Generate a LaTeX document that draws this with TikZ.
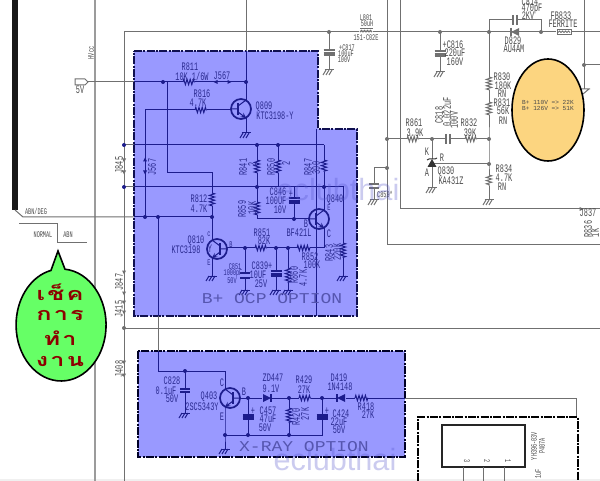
\documentclass[tikz,border=0pt]{standalone}
\usepackage{fontspec}
\usetikzlibrary{decorations.pathmorphing}
\newfontfamily\schfont[FakeStretch=0.6]{Liberation Mono}
\newfontfamily\bigfont[FakeStretch=1.2]{Liberation Mono}
\newfontfamily\plainfont{Liberation Mono}
\newfontfamily\markfont{Liberation Sans}
\newfontfamily\thaifont[Script=Thai,LetterSpace=12,FakeStretch=1.4]{Loma}
\definecolor{panelfill}{HTML}{9999FF}
\definecolor{wirenavy}{HTML}{1C1C8C}
\definecolor{wiregray}{HTML}{707070}
\definecolor{textin}{HTML}{2A2A90}
\definecolor{textout}{HTML}{4A4A4A}
\tikzset{every picture/.style={line width=0.75pt},
	wirein/.style={color=wirenavy},
	wireout/.style={color=wiregray},
	res/.style={decorate,decoration={zigzag,segment length=2.4,amplitude=2}},
	lblin/.style={font=\fontsize{8.6}{9}\schfont,text=textin,inner sep=0pt},
	lblout/.style={font=\fontsize{8.6}{9}\schfont,text=textout,inner sep=0pt},
	smalltxt/.style={font=\fontsize{6.5}{7}\schfont},
	tinytxt/.style={font=\fontsize{4.6}{5}\plainfont,text=textout,inner sep=0pt},
	bigtxt/.style={font=\fontsize{11.25}{12}\bigfont,text={rgb,255:red,85;green,85;blue,175},inner sep=0pt},
	panel/.style={fill=panelfill,draw={rgb,255:red,16;green,16;blue,80},line width=1.2pt,dash pattern=on 6pt off 1pt on 1.5pt off 1pt},
	thicktxt/.style={font=\fontsize{13.5}{14}\thaifont\bfseries,text={rgb,255:red,140;green,0;blue,0},inner sep=0pt},
	watermark/.style={font=\fontsize{23}{24}\markfont,text={rgb,255:red,85;green,85;blue,205},text opacity=0.3,inner sep=0pt}}
% parts of the schematic, first argument is the wire colour
\newcommand{\resistor}[4][wirein]{\coordinate (#2a) at (#3); \coordinate (#2b) at (#4); \draw[#1,res] (#2a) -- (#2b);}
\newcommand{\gnd}[3][wirein]{\coordinate (#2) at (#3);
	\draw[#1] (#2) ++(-4.5,0) -- ++(9,0);
	\foreach \k in {-3,0,3} {\draw[#1] (#2) ++(\k,0) -- ++(-3,5);}}
\newcommand{\capv}[5][wirein]{\coordinate (#2a) at (#3,#4); \coordinate (#2b) at (#3,#5);
	\draw[#1,line width=1pt] (#3-5,#4) -- (#3+5,#4) (#3-5,#5) -- (#3+5,#5);}
\newcommand{\capp}[5][wirein]{\coordinate (#2a) at (#3,#4); \coordinate (#2b) at (#3,#5+2);
	\draw[#1,line width=1pt] (#3-5.5,#4) -- (#3+5.5,#4) (#3-5.5,#5) -- (#3+5.5,#5) (#3-5.5,#5+2) -- (#3+5.5,#5+2);}
\newcommand{\caph}[5][wirein]{\coordinate (#2a) at (#4,#3); \coordinate (#2b) at (#5,#3);
	\draw[#1,line width=1pt] (#4,#3-5) -- (#4,#3+5) (#5,#3-5) -- (#5,#3+5);}
\newcommand{\diode}[5][wirein]{\coordinate (#2a) at (#3-5,#4); \coordinate (#2b) at (#3+5,#4);
	\begin{scope}[shift={(#3,#4)},xscale=#5]
		\fill[#1] (-4,-4) -- (4,0) -- (-4,4) -- cycle;
		\draw[#1,line width=1pt] (4,-4) -- (4,4);
	\end{scope}}
\newcommand{\transistor}[3][wirein]{
	\begin{scope}[shift={#2},xscale=#3]
		\draw[#1,line width=1.3pt] (0,0) circle [radius=10];
		\draw[#1,line width=1.2pt] (-3,-6) -- (-3,6);
		\draw[#1] (-10,0) -- (-3,0) (-3,-3) -- (5,-9);
		\draw[#1,-stealth] (-3,3) -- (5,9);
	\end{scope}}
\newcommand{\jmark}[3][wirein]{\fill[#1,shift={(#2)},rotate=#3] (2.5,0) -- (-1.5,2) -- (-1.5,-2) -- cycle;}
\newcommand{\jdot}[2][wirein]{\fill[#1] (#2) circle [radius=2];}

\begin{document}
\begin{tikzpicture}[x=0.75pt,y=0.75pt,yscale=-1]
	\useasboundingbox (0,0) rectangle (600,481);
	\fill[white] (0,0) rectangle (600,481);
	\fill[black!6] (0,479) rectangle (600,481);

	%Shape: Panels
	\path[panel] (134,51) -- (318,51) -- (318,129) -- (357,129) -- (357,316) -- (134,316) -- cycle;
	\path[panel,line width=2pt,draw=black!85!blue] (138,351) rectangle (405,457);

	%Straight Lines: left side
	\fill[black!90] (12,0) rectangle (18,210);
	\draw[wiregray!70,line width=1.5pt] (95,0) -- (95,481);
	\coordinate (abnbend) at (23,217);
	\coordinate (abnin) at (134,217);
	\draw[wireout] (15,210) -- (abnbend) -- (abnin);
	\draw[wireout] (19,224) -- (57,224) -- (57,243) -- (87,243);
	\coordinate (busl) at (124,32);
	\coordinate (busb) at (124,481);
	\coordinate (busr) at (600,32);
	\draw[wireout] (busb) -- (busl) -- (busr);

	\node[lblout,smalltxt] (tabn) at (36,211) {ABN/DEG};
	\node[lblout,smalltxt] (tnormal) at (43,235) {NORMAL};
	\node[lblout,smalltxt] (tabnb) at (68,235) {ABN};
	\node[lblout,smalltxt,rotate=90] (thv) at (91,53) {HVcc};
	\node[lblout] (t5v) at (80,90) {5V};
	\foreach \y/\n in {165/J845,282/J847,309/J415,369/J408} {
		\node[lblout,rotate=90] (t\n) at (119,\y) {\n};}
	\foreach \y in {160,172,272,293,302,312,362,375} {\jmark[wireout]{124,\y}{90}}

	%Shape: 5V connector
	\coordinate (fivev) at (88,82);
	\draw[wireout] (75,79) -- (85,79) -- (fivev) -- (85,85) -- (75,85) -- cycle;
	\coordinate (fivein) at (134,82);
	\draw[wireout] (fivev) -- (fivein);

	% upper panel
	\coordinate (j811) at (163,82);
	\coordinate (j809) at (246,82);
	\coordinate (top809) at (246,0);
	\coordinate (in809) at (246,51);
	\draw[wireout] (top809) -- (in809);
	\draw[wirein] (in809) -- (j809);
	\resistor{r811}{183,82}{195,82}
	\draw[wirein] (fivein) -- (r811a) (r811b) -- (j809);
	\jmark{216,82}{180}
	\jmark{229,82}{0}
	\jdot{j811}
	\jdot{j809}
	\transistor{(241,109)}{1}
	\gnd{g809}{246,133}
	\coordinate (c809) at (246,100);
	\coordinate (e809) at (246,118);
	\draw[wirein] (j809) -- (c809) (e809) -- (g809);
	\resistor{r816}{195,110}{207,110}
	\coordinate (b809) at (231,110);
	\coordinate (c816l) at (145,110);
	\coordinate (j816) at (145,217);
	\draw[wirein] (j816) -- (c816l) -- (r816a) (r816b) -- (b809);
	\jmark{145,160}{270}
	\jmark{145,172}{90}

	% supply rails of the panel
	\coordinate (rail1) at (124,145);
	\coordinate (rail1in) at (134,145);
	\coordinate (rail2) at (124,187);
	\coordinate (rail2in) at (134,187);
	\coordinate (j841) at (257,145);
	\coordinate (j850) at (278,145);
	\coordinate (r847t) at (324,145);
	\coordinate (j859) at (257,187);
	\coordinate (j840e) at (324,187);
	\coordinate (j846b) at (294,219);
	\coordinate (c859b) at (257,219);
	\coordinate (b840) at (309,219);
	\draw[wireout] (rail1) -- (rail1in) (rail2) -- (rail2in);
	\draw[wirein] (rail1in) -- (r847t) (rail2in) -- (j840e);
	\jdot{rail1} \jdot{rail2} \jdot{j841} \jdot{j850} \jdot{j859} \jdot{j840e} \jdot{j846b}
	\resistor{r841}{257,160}{257,173}
	\resistor{r850}{278,160}{278,173}
	\resistor{r847}{324,160}{324,172}
	\resistor{r859}{257,202}{257,215}
	\draw[wirein] (j841) -- (r841a) (r841b) -- (j859) (j850) -- (r850a) (r850b) -- (278,187);
	\draw[wirein] (r847t) -- (r847a) (r847b) -- (j840e) (j859) -- (r859a) (r859b) -- (c859b) -- (b840);
	\capp{c846}{294}{198}{201}
	\draw[wirein] (294,187) -- (c846a) (c846b) -- (j846b);
	\transistor{(319,219)}{1}
	\coordinate (e840) at (324,210);
	\coordinate (c840) at (324,228);
	\coordinate (r843bend) at (343,187);
	\resistor{r843}{343,243}{343,258}
	\gnd{g843}{343,276}
	\draw[wirein] (j840e) -- (e840) (j840e) -- (r843bend) -- (r843a) (r843b) -- (g843);

	% Q810
	\coordinate (c811a) at (167,82);
	\coordinate (c811b) at (167,173);
	\coordinate (c811c) at (212,173);
	\resistor{r812}{212,193}{212,206}
	\coordinate (j812) at (212,217);
	\coordinate (j158) at (158,217);
	\draw[wirein] (c811a) -- (c811b) -- (c811c) -- (r812a) (r812b) -- (j812);
	\draw[wirein] (abnin) -- (j812);
	\jdot{j816} \jdot{j158} \jdot{j812}
	\transistor{(217,249)}{-1}
	\coordinate (c810) at (212,240);
	\coordinate (e810) at (212,258);
	\gnd{g810}{212,276}
	\draw[wirein] (j812) -- (c810) (e810) -- (g810);
	\coordinate (b810) at (227,248);
	\coordinate (j851) at (245,248);
	\coordinate (j839) at (276,248);
	\coordinate (j860) at (288,248);
	\coordinate (c852) at (324,248);
	\resistor{r851}{255,248}{267,248}
	\resistor{r852}{297,248}{310,248}
	\draw[wirein] (b810) -- (r851a) (r851b) -- (r852a) (r852b) -- (c852) -- (c840);
	\jdot{j851} \jdot{j839} \jdot{j860}
	\capv{c851}{245}{273}{278}
	\gnd{g851}{245,290}
	\draw[wirein] (j851) -- (c851a) (c851b) -- (g851);
	\capp{c839}{276}{271}{274}
	\gnd{g839}{276,290}
	\draw[wirein] (j839) -- (c839a) (c839b) -- (g839);
	\resistor{r860}{288,268}{288,283}
	\gnd{g860}{288,290}
	\draw[wirein] (j860) -- (r860a) (r860b) -- (g860);
	\coordinate (v316t) at (316,129);
	\coordinate (v316b) at (316,316);
	\draw[wirein] (v316t) -- (v316b);

	% Text Node
	\node[lblin] (tr811) at (190,67) {R811};
	\node[lblin] (t10k) at (192,76) {10K 1/6W};
	\node[lblin] (tj567) at (222,76) {J567};
	\node[lblin] (tr816) at (202,94) {R816};
	\node[lblin] (t47k) at (198,103) {4.7K};
	\node[lblin] (tq809) at (264,107) {Q809};
	\node[lblin] (tktc) at (275,116) {KTC3198-Y};
	\node[lblin,rotate=90] (tj567b) at (152,167) {J567};
	\node[lblin,rotate=90] (tr841) at (243,167) {R841};
	\node[lblin,rotate=90] (t841v) at (252,164) {2};
	\node[lblin,rotate=90] (tr850) at (271,167) {R850};
	\node[lblin,rotate=90] (t850v) at (286,163) {2};
	\node[lblin,rotate=90] (tr847) at (308,167) {R847};
	\node[lblin,rotate=90] (t847v) at (316,168) {390};
	\node[lblin] (tc846) at (278,192) {C846};
	\node[lblin] (t846u) at (276,201) {100UF};
	\node[lblin] (t846v) at (280,210) {10V};
	\node[lblin] (tplus846) at (291,194) {+};
	\node[lblin,rotate=90] (tr859) at (242,209) {R859};
	\node[lblin,rotate=90] (t859v) at (252,208) {10K};
	\node[lblin] (tr812) at (199,199) {R812};
	\node[lblin] (t812v) at (199,209) {4.7K};
	\node[lblin] (tq840) at (335,200) {Q840};
	\node[lblin,smalltxt] (te840) at (329,208) {E};
	\node[lblin] (tb840) at (306,224) {B};
	\node[lblin] (tc840) at (329,234) {C};
	\node[lblin] (tbf) at (299,233) {BF421L};
	\node[lblin] (tq810) at (196,241) {Q810};
	\node[lblin] (tktc810) at (186,250) {KTC3198};
	\node[lblin] (ty810) at (210,249) {Y};
	\node[lblin,smalltxt] (tc810) at (209,234) {c};
	\node[lblin,smalltxt] (tb810) at (231,245) {B};
	\node[lblin,smalltxt] (te810) at (209,263) {E};
	\node[lblin] (tr851) at (262,233) {R851};
	\node[lblin] (t851v) at (264,241) {82K};
	\node[lblin] (tr852) at (310,257) {R852};
	\node[lblin] (t852v) at (312,265) {100K};
	\node[lblin,rotate=90] (tr843) at (329,253) {R843};
	\node[lblin,rotate=90] (t843v) at (337,252) {220K};
	\node[lblin,smalltxt] (tc851) at (235,267) {C851};
	\node[lblin,smalltxt] (t851u) at (233,274) {1000pF};
	\node[lblin,smalltxt] (t851w) at (232,281) {50V};
	\node[lblin] (tc839) at (262,266) {C839+};
	\node[lblin] (t839u) at (258,275) {10UF};
	\node[lblin] (t839v) at (261,284) {25V};
	\node[lblin,rotate=90] (tr860) at (294,275) {R860};
	\node[lblin,rotate=90] (t860v) at (303,278) {4.7K};
	\node[bigtxt] (tocp) at (272,299) {B+ OCP OPTION};

	% X-RAY panel
	\coordinate (v158a) at (158,316);
	\coordinate (v158b) at (158,351);
	\coordinate (v158c) at (158,371);
	\coordinate (c403) at (225,371);
	\coordinate (j828) at (185,371);
	\draw[wirein] (j158) -- (v158a) (v158b) -- (v158c) -- (c403);
	\draw[wireout] (v158a) -- (v158b);
	\capv{c828}{185}{389}{392}
	\gnd{g828}{185,413}
	\draw[wirein] (j828) -- (c828a) (c828b) -- (g828);
	\jdot{j828}
	\transistor{(230,398)}{-1}
	\coordinate (c403b) at (225,389);
	\coordinate (e403) at (225,407);
	\coordinate (j403e) at (225,435);
	\gnd{g403}{225,449}
	\draw[wirein] (c403) -- (c403b) (e403) -- (j403e) -- (g403);
	\coordinate (b403) at (240,398);
	\coordinate (j457) at (248,398);
	\coordinate (j420) at (289,398);
	\coordinate (j424) at (322,398);
	\coordinate (j457b) at (248,435);
	\coordinate (j420b) at (289,435);
	\coordinate (j424b) at (322,435);
	\diode{zd447}{267}{398}{1}
	\resistor{r429}{299,398}{311,398}
	\diode{d419}{341}{398}{-1}
	\resistor{r418}{355,398}{368,398}
	\coordinate (xout) at (405,398);
	\coordinate (xbend) at (576,398);
	\coordinate (xdown) at (576,417);
	\draw[wirein] (b403) -- (zd447a) (zd447b) -- (r429a) (r429b) -- (d419a) (d419b) -- (r418a) (r418b) -- (xout);
	\draw[wireout] (xout) -- (xbend) -- (xdown);
	\draw[wirein] (j403e) -- (j424b) -- (j424);
	\capp{c457}{248}{415}{417}
	\draw[wirein] (j457) -- (c457a) (c457b) -- (j457b);
	\resistor{r420}{289,408}{289,423}
	\draw[wirein] (j420) -- (r420a) (r420b) -- (j420b);
	\capp{c424}{322}{415}{417}
	\draw[wirein] (j424) -- (c424a) (c424b) -- (j424b);
	\foreach \j in {j403e,j457,j420,j424,j457b,j420b} {\jdot{\j}}

	% Text Node
	\node[lblin] (tc828) at (172,381) {C828};
	\node[lblin] (t828u) at (166,391) {0.1uF};
	\node[lblin] (t828v) at (172,399) {50V};
	\node[lblin] (tq403) at (209,397) {Q403};
	\node[lblin] (t2sc) at (202,407) {2SC5343Y};
	\node[lblin] (tc403) at (222,383) {C};
	\node[lblin] (tb403) at (244,392) {B};
	\node[lblin] (te403) at (222,417) {E};
	\node[lblin] (tzd) at (273,378) {ZD447};
	\node[lblin] (tzdv) at (271,389) {9.1V};
	\node[lblin] (tc457) at (268,411) {C457};
	\node[lblin] (t457u) at (268,419) {47uF};
	\node[lblin] (t457v) at (265,428) {50V};
	\node[lblin] (tr429) at (304,380) {R429};
	\node[lblin] (t429v) at (304,390) {27K};
	\node[lblin,rotate=90] (tr420) at (296,417) {R420};
	\node[lblin,rotate=90] (t420v) at (305,414) {27K};
	\node[lblin] (td419) at (339,378) {D419};
	\node[lblin] (td419n) at (340,387) {1N4148};
	\node[lblin] (tr418) at (366,407) {R418};
	\node[lblin] (t418v) at (368,415) {27K};
	\node[lblin] (tc424) at (341,414) {C424};
	\node[lblin] (t424u) at (339,422) {22uF};
	\node[lblin] (t424v) at (339,430) {50V};
	\node[lblin] (tplus424) at (327,411) {+};
	\node[lblin] (tplus457) at (253,411) {+};
	\node[bigtxt] (txray) at (304,447) {X-RAY OPTION};

	% right side
	\foreach \n/\x/\a/\b in {v387/387/0/245,v400/400/0/209} {
		\coordinate (\n t) at (\x,\a);
		\coordinate (\n b) at (\x,\b);
		\draw[wireout] (\n t) -- (\n b) -- (600,\b);}
	\coordinate (l801a) at (360,32);
	\coordinate (j817) at (329,32);
	\coordinate (j816c) at (440,32);
	\coordinate (j830) at (489,32);
	\coordinate (j833) at (541,32);
	\fill[white] (359,27) rectangle (373,33);
	\foreach \k in {0,1,2,3} {\draw[wireout,line width=1pt] (360+3*\k,32) arc [start angle=180,end angle=360,radius=1.5];}
	\draw[wireout] (360,28.5) -- (373,28.5);
	\capp[wireout]{c817}{329}{50}{53}
	\gnd[wireout]{g817}{329,70}
	\draw[wireout] (j817) -- (c817a) (c817b) -- (g817);
	\capp[wireout]{c816}{440}{51}{54}
	\gnd[wireout]{g816}{440,72}
	\draw[wireout] (j816c) -- (c816a) (c816b) -- (g816);
	\resistor[wireout]{r830}{489,77}{489,90}
	\resistor[wireout]{r831}{489,102}{489,115}
	\resistor[wireout]{r834}{489,175}{489,186}
	\coordinate (j832) at (489,139);
	\coordinate (j834) at (489,164);
	\gnd[wireout]{g834}{489,200}
	\draw[wireout] (j830) -- (r830a) (r830b) -- (r831a) (r831b) -- (j832) -- (j834) -- (r834a) (r834b) -- (g834);
	\coordinate (j861) at (387,139);
	\coordinate (j830k) at (432,139);
	\resistor[wireout]{r861}{407,139}{419,139}
	\caph[wireout]{c818}{139}{446}{450}
	\resistor[wireout]{r832}{465,139}{477,139}
	\draw[wireout] (j861) -- (r861a) (r861b) -- (c818a) (c818b) -- (r832a) (r832b) -- (j832);
	\coordinate (q830t) at (432,159);
	\coordinate (q830b) at (432,167);
	\coordinate (q830r) at (432,164);
	\gnd[wireout]{g830}{432,188}
	\draw[wireout] (j830k) -- (q830t) (q830b) -- (g830) (q830r) -- (j834);
	\fill[black!80] (q830t) -- (436.5,167) -- (427.5,167) -- cycle;
	\draw[black!80] (427,160) -- (429,159) -- (435,159) -- (437,158);
	\coordinate (j859a) at (387,168);
	\coordinate (c859k) at (374,168);
	\capv[wireout]{c859}{374}{184}{188}
	\gnd[wireout]{g859}{374,200}
	\draw[wireout] (j859a) -- (c859k) -- (c859a) (c859b) -- (g859);
	\coordinate (c814l) at (489,20);
	\coordinate (c814r) at (541,20);
	\caph[wireout]{c814}{20}{513}{517}
	\draw[wireout] (j830) -- (c814l) -- (c814a) (c814b) -- (c814r) -- (j833);
	\diode[wireout]{d829}{515}{32}{-1}
	\fill[white] (556,30) rectangle (572,35);
	\draw[wireout] (557,30) rectangle (571,35);
	\foreach \k in {0,1,2,3} {\draw[wireout] (558+3*\k,32.5) arc [start angle=180,end angle=360,radius=1.5];}
	\coordinate (v584t) at (584,0);
	\coordinate (j584) at (584,65);
	\coordinate (v584b) at (584,89);
	\draw[wireout] (v584t) -- (v584b) (j584) -- (600,65);
	\draw[wireout] (578,89) -- (590,89) (583,94) -- (589,89);
	\foreach \j in {j817,j816c,j830,j833,j861,j830k,j832,j834,j859a,j584} {\jdot[wireout]{\j}}
	\draw[wireout] (124,328) -- (600,328);
	\jdot[wireout]{124,328}
	\jmark[wireout]{581,209}{0}

	% Text Node
	\node[lblout,smalltxt] (tl801) at (366,18) {L801};
	\node[lblout,smalltxt] (t50uh) at (367,24) {50uH};
	\node[lblout,smalltxt] (t151) at (366,38) {151-C02E};
	\node[lblout,smalltxt] (tc817) at (347,48) {+C817};
	\node[lblout,smalltxt] (t817u) at (346,54) {100uF};
	\node[lblout,smalltxt] (t817v) at (344,60) {100V};
	\node[lblout] (tc816) at (453,45) {+C816};
	\node[lblout] (t816u) at (455,53) {220uF};
	\node[lblout] (t816v) at (455,62) {160V};
	\node[lblout] (tc814) at (530,2) {C814};
	\node[lblout] (t814u) at (532,9) {470pF};
	\node[lblout] (t814v) at (528,16) {2KV};
	\node[lblout] (td829) at (513,41) {D829};
	\node[lblout] (tau) at (514,49) {AU4AM};
	\node[lblout] (tfb) at (561,16) {FB833};
	\node[lblout] (tfer) at (563,24) {FERRITE};
	\node[lblout] (tr830) at (502,77) {R830};
	\node[lblout] (t830v) at (503,86) {180K};
	\node[lblout] (t830n) at (502,94) {RN};
	\node[lblout] (tr831) at (502,103) {R831};
	\node[lblout] (t831v) at (503,111) {56K};
	\node[lblout] (t831n) at (503,121) {RN};
	\node[lblout] (tr861) at (414,123) {R861};
	\node[lblout] (t861v) at (415,133) {3.9K};
	\node[lblout,rotate=90] (tc818) at (439,115) {C818};
	\node[lblout,rotate=90] (t818u) at (447,112) {0.022uF};
	\node[lblout,rotate=90] (t818v) at (454,120) {100V};
	\node[lblout] (tr832) at (469,123) {R832};
	\node[lblout] (t832v) at (470,133) {39K};
	\node[lblout] (tk) at (427,152) {K};
	\node[lblout] (tr) at (442,158) {R};
	\node[lblout] (ta) at (427,173) {A};
	\node[lblout] (tq830) at (446,172) {Q830};
	\node[lblout] (tka) at (451,181) {KA431Z};
	\node[lblout] (tr834) at (504,169) {R834};
	\node[lblout] (t834v) at (504,178) {4.7K};
	\node[lblout] (t834n) at (502,187) {RN};
	\node[lblout,smalltxt] (tc859) at (385,194) {C859*};
	\node[lblout] (tj837) at (588,213) {J837};
	\node[lblout,rotate=90] (tr836) at (588,229) {R836};
	\node[lblout,rotate=90] (t836v) at (595,233) {1K};

	%Shape: Ellipse
	\draw[black,line width=1.2pt,fill={rgb,255:red,252;green,213;blue,128}] (548,110) circle [x radius=36,y radius=51];
	\node[tinytxt] (tb110) at (548,102.5) {B+ 110V => 22K};
	\node[tinytxt] (tb126) at (548,108) {B+ 126V => 51K};

	%Shape: Balloon
	\draw[black,line width=1.2pt,fill={rgb,255:red,102;green,255;blue,102}] (58,251) -- (65,269.2) arc [start angle=275,end angle=617,x radius=45,y radius=56] -- cycle;
	\node[thicktxt] (tcheck) at (60,292) {เช็ค};
	\node[thicktxt] (tkan) at (60,315) {การ};
	\node[thicktxt] (ttham) at (60,338) {ทำ};
	\node[thicktxt] (tngan) at (60,361) {งาน};

	% connector box at the bottom
	\draw[black,line width=2pt,dash pattern=on 6pt off 1pt on 1.5pt off 1pt] (418,481) -- (418,417) -- (578,417) -- (578,481);
	\draw[black!85,line width=1.2pt] (442,425) rectangle (525,467);
	\foreach \x/\p/\lx in {463/3/467,483/2/487,504/1/508} {
		\draw[wireout] (\x,467) -- (\x,481);
		\node[lblout,smalltxt,rotate=270] (tpin\p) at (\lx,461) {\p};}
	\node[lblout,smalltxt,rotate=90] (tyh) at (534,446) {YH396-03V};
	\node[lblout,smalltxt,rotate=90] (tp407) at (542,446) {P407A};
	\node[lblout,smalltxt,rotate=90] (t1u) at (538,474) {1uF};

	% Text Node
	\node[watermark] (tmark) at (338,190) {eclubthai};
	\node[watermark] (tmarkb) at (335,460) {eclubthai};
\end{tikzpicture}
\end{document}
